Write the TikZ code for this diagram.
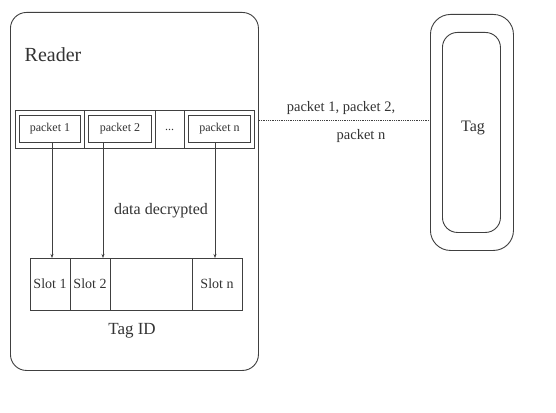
\documentclass[tikz,border=0pt]{standalone}
\usepackage{fontspec}
\setmainfont{Liberation Serif}
\usetikzlibrary{arrows.meta}
\begin{document}
\begin{tikzpicture}[x=1pt,y=-1pt,
  ln/.style={draw=black!75,line width=0.9pt},
  cell/.style={ln,rectangle,inner sep=0pt,anchor=north west},
  txt/.style={inner sep=0pt,text=black!80},
  vline/.style={ln,-{Stealth[length=4pt,width=3pt]}}]
\useasboundingbox[fill=white] (0,0) rectangle (556,412);
% Reader
\node[ln,rectangle,rounded corners=16pt,minimum width=248pt,minimum height=358pt,anchor=north west] (reader) at (10,12) {};
\node[txt,font=\fontsize{20}{22}\selectfont] (rlabel) at (53,55) {Reader};
% packet row
\node[cell,minimum width=239pt,minimum height=38pt] (prow) at (15,110) {};
\draw[ln] (84,110) -- (84,148) (155,110) -- (155,148) (184,110) -- (184,148);
\node[cell,minimum width=61pt,minimum height=27pt] (p1) at (19,115) {};
\node[cell,minimum width=63pt,minimum height=27pt] (p2) at (88,115) {};
\node[cell,minimum width=62pt,minimum height=27pt] (pn) at (188,115) {};
\node[txt,font=\fontsize{12}{14}\selectfont] (p1t) at (p1) {packet 1};
\node[txt,font=\fontsize{12}{14}\selectfont] (p2t) at (p2) {packet 2};
\node[txt,font=\fontsize{12}{14}\selectfont] (pnt) at (pn) {packet n};
\node[txt,font=\fontsize{12}{14}\selectfont] (dots) at (169.5,130) {...};
% slot row
\node[cell,minimum width=212pt,minimum height=52pt] (srow) at (30,258) {};
\draw[ln] (70,258) -- (70,310) (110,258) -- (110,310) (192,258) -- (192,310);
\node[txt,font=\fontsize{14}{16}\selectfont] (s1) at (50,284) {Slot 1};
\node[txt,font=\fontsize{14}{16}\selectfont] (s2) at (90,284) {Slot 2};
\node[txt,font=\fontsize{14}{16}\selectfont] (sn) at (217,284) {Slot n};
\node[txt,font=\fontsize{17}{19}\selectfont] (tagid) at (132,331) {Tag ID};
\node[txt,font=\fontsize{16}{18}\selectfont] (data) at (161,211) {data decrypted};
% vertical connectors
\coordinate (a1) at (52,142); \coordinate (b1) at (52,258);
\coordinate (a2) at (103,142); \coordinate (b2) at (103,258);
\coordinate (a3) at (215,142); \coordinate (b3) at (215,258);
\draw[vline] (a1) -- (b1);
\draw[vline] (a2) -- (b2);
\draw[vline] (a3) -- (b3);
% Tag
\node[ln,rectangle,rounded corners=20pt,minimum width=83pt,minimum height=236pt,anchor=north west] (tagout) at (430,14) {};
\node[ln,rectangle,rounded corners=15pt,minimum width=58pt,minimum height=200pt,anchor=north west] (tagin) at (442,32) {};
\node[txt,font=\fontsize{16}{18}\selectfont] (tag) at (473,128) {Tag};
% link
\coordinate (c1) at (reader.east |- 0,120);
\coordinate (c2) at (tagout.west |- 0,120);
\draw[ln,line width=0.8pt,densely dotted] (c1) -- (c2);
\node[txt,font=\fontsize{14.5}{16}\selectfont] (l1) at (341,108) {packet 1, packet 2,};
\node[txt,font=\fontsize{14.5}{16}\selectfont] (l2) at (361,136) {packet n};
\end{tikzpicture}
\end{document}
